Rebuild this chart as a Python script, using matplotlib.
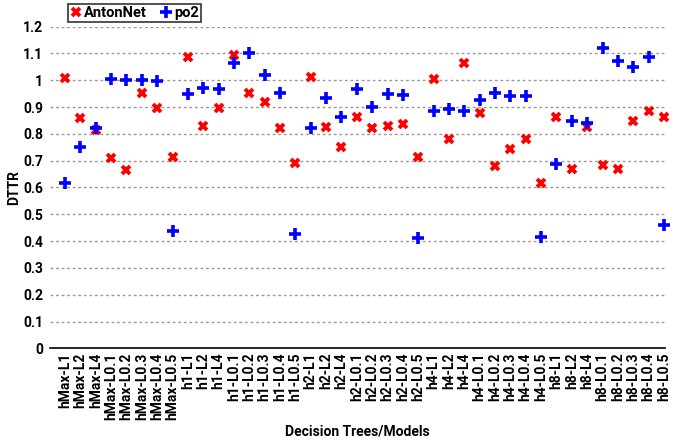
import matplotlib
matplotlib.use("Agg")
import matplotlib.pyplot as plt
import numpy as np

categories = [
    "hMax-L1", "hMax-L2", "hMax-L4", "hMax-L0.1", "hMax-L0.2", "hMax-L0.3", "hMax-L0.4", "hMax-L0.5",
    "h1-L1", "h1-L2", "h1-L4", "h1-L0.1", "h1-L0.2", "h1-L0.3", "h1-L0.4", "h1-L0.5",
    "h2-L1", "h2-L2", "h2-L4", "h2-L0.1", "h2-L0.2", "h2-L0.3", "h2-L0.4", "h2-L0.5",
    "h4-L1", "h4-L2", "h4-L4", "h4-L0.1", "h4-L0.2", "h4-L0.3", "h4-L0.4", "h4-L0.5",
    "h8-L1", "h8-L2", "h8-L4", "h8-L0.1", "h8-L0.2", "h8-L0.3", "h8-L0.4", "h8-L0.5",
]

antonnet = [
    1.007, 0.858, 0.815, 0.709, 0.665, 0.954, 0.896, 0.715,
    1.086, 0.829, 0.896, 1.094, 0.954, 0.918, 0.823, 0.692,
    1.012, 0.825, 0.750, 0.864, 0.821, 0.831, 0.838, 0.715,
    1.005, 0.781, 1.063, 0.879, 0.681, 0.744, 0.780, 0.618,
    0.864, 0.669, 0.827, 0.684, 0.669, 0.849, 0.885, 0.864,
]

po2 = [
    0.616, 0.752, 0.821, 1.005, 1.000, 1.000, 0.996, 0.439,
    0.948, 0.970, 0.968, 1.066, 1.103, 1.020, 0.954, 0.425,
    0.821, 0.933, 0.862, 0.968, 0.901, 0.948, 0.945, 0.413,
    0.887, 0.892, 0.885, 0.926, 0.951, 0.943, 0.941, 0.414,
    0.688, 0.849, 0.842, 1.122, 1.073, 1.051, 1.088, 0.459,
]

yticks = [0, 0.1, 0.2, 0.3, 0.4, 0.5, 0.6, 0.7, 0.8, 0.9, 1, 1.1, 1.2]
ytick_labels = ["0", "0.1", "0.2", "0.3", "0.4", "0.5", "0.6", "0.7", "0.8", "0.9", "1", "1.1", "1.2"]

plt.rcParams['font.family'] = ['Roboto', 'DejaVu Sans']
plt.rcParams['font.weight'] = 'bold'

fig = plt.figure(figsize=(6.78, 4.40), dpi=100)
ax = fig.add_axes([50/678, 1-348.3/440, 615/678, (348.3-26.7)/440])

x = np.arange(len(categories))
ax.plot(x, antonnet, linestyle='none', marker='x', markersize=6, markeredgewidth=2.8,
        color='#ff0000', label='AntonNet', clip_on=False, zorder=3)
ax.plot(x, po2, linestyle='none', marker='+', markersize=8, markeredgewidth=2.6,
        color='#0000ff', label='po2', clip_on=False, zorder=3)

ax.set_xlim(-0.98, 39.07)
ax.set_ylim(0, 1.2)
ax.set_yticks(yticks)
ax.set_yticklabels(ytick_labels, fontsize=10, fontweight='bold')
ax.set_xticks(x)
ax.set_xticklabels(categories, rotation=90, fontsize=10, fontweight='bold')
ax.tick_params(axis='y', length=0, pad=5)
ax.tick_params(axis='x', length=0, pad=3)

for v in yticks[1:]:
    ax.axhline(v, color='#999999', linewidth=1, linestyle=(0, (2, 2)), zorder=1)

for s in ['top', 'right', 'left']:
    ax.spines[s].set_visible(False)
ax.spines['bottom'].set_linewidth(1.2)
ax.spines['bottom'].set_color('black')

ax.set_ylabel('DTTR', fontsize=10, fontweight='bold', labelpad=1)
ax.set_xlabel('Decision Trees/Models', fontsize=10, fontweight='bold', labelpad=3)

leg = fig.legend(loc='upper left', bbox_to_anchor=(68/678, 1-4/440), ncol=2,
                 handlelength=0.8, handletextpad=0.15, columnspacing=0.9,
                 borderpad=0.15, borderaxespad=0, fancybox=False, frameon=True,
                 prop={'weight': 'bold', 'size': 10.5})
leg.get_frame().set_edgecolor('black')
leg.get_frame().set_linewidth(1.2)

fig.savefig('out.png', dpi=100)
